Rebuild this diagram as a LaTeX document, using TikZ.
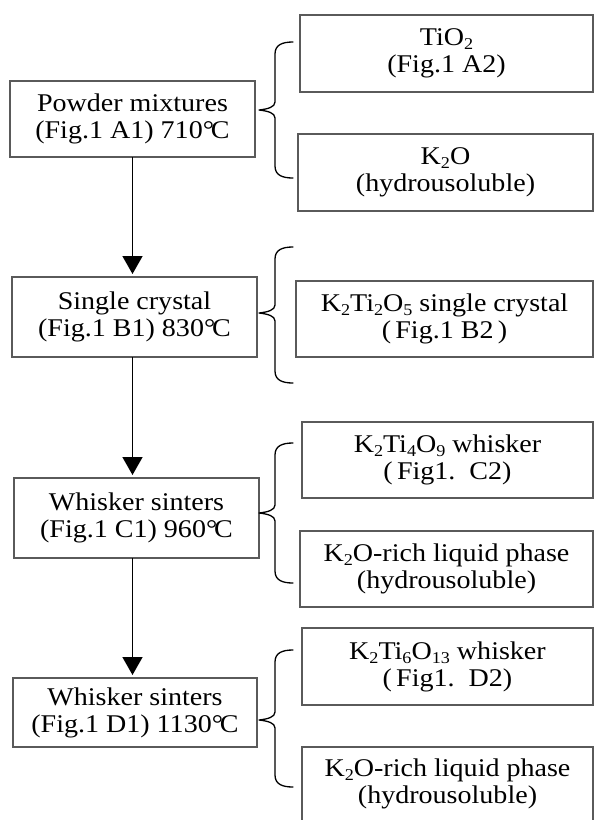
\documentclass[tikz,border=0pt]{standalone}
\usepackage{fontspec}
\setmainfont{Liberation Serif}[FakeStretch=1.1]
\usetikzlibrary{arrows.meta}
\newcommand\sbs[1]{\raisebox{-0.35ex}{\fontsize{16.5}{16.5}\selectfont #1}}
\newcommand\degc{°\kern-0.12em C}
\newcommand\curly[3]{\draw[bracestyle] (293,#1) .. controls (282,#1) and (275,#1+3) .. (275,#1+12) -- (275,#2-8) .. controls (275,#2-3) and (268,#2-1) .. (259,#2) .. controls (268,#2+1) and (275,#2+3) .. (275,#2+8) -- (275,#3-12) .. controls (275,#3-3) and (282,#3) .. (293,#3);}
\definecolor{boxgray}{HTML}{5A5A5A}
\tikzset{
  box/.style={draw=boxgray, line width=1.2pt, inner sep=0pt, outer sep=0pt, align=center,
    font=\fontsize{25.5}{27}\selectfont},
  txt/.style={inner sep=0pt, align=center, font=\fontsize{25.5}{27}\selectfont},
  flow/.style={line width=1.6pt, -{Triangle[length=18pt,width=20pt]}, shorten >=3pt},
  bracestyle/.style={line width=1.3pt, line cap=round, line join=round}
}
\begin{document}
\begin{tikzpicture}[x=1pt,y=-1pt]
\useasboundingbox (0,0) rectangle (596,820);
% left column
\node[box, minimum width=245pt, minimum height=76pt] (a1) at (132.5,119) {Powder mixtures\\(Fig.1 A1) 710\degc};
\node[box, minimum width=245pt, minimum height=80pt] (b1) at (134.5,317) {Single crystal\\(Fig.1 B1) 830\degc};
\node[box, minimum width=245pt, minimum height=80pt] (c1) at (136.5,518) {Whisker sinters\\(Fig.1 C1) 960\degc};
\node[box, minimum width=244pt, minimum height=69pt] (d1) at (135,712.5) {Whisker sinters\\(Fig.1 D1) 1130\degc};
% right column
\node[box, minimum width=293pt, minimum height=77pt] (a2) at (446.5,53.5) {TiO\sbs{2}\\(Fig.1 A2)};
\node[box, minimum width=295pt, minimum height=77pt] (a3) at (445.5,172.5) {K\sbs{2}O\\(hydrousoluble)};
\node[box, minimum width=297pt, minimum height=76pt] (b2) at (444.5,319) {K\sbs{2}Ti\sbs{2}O\sbs{5} single crystal\\(\,Fig.1 B2\,)};
\node[box, minimum width=291pt, minimum height=76pt] (c2) at (447.5,460) {K\sbs{2}Ti\sbs{4}O\sbs{9} whisker\\(\,Fig1.\ \ C2)};
\node[box, minimum width=293pt, minimum height=76pt] (c3) at (446.5,569) {K\sbs{2}O-rich liquid phase\\(hydrousoluble)};
\node[box, minimum width=291pt, minimum height=77pt] (d2) at (447.5,666.5) {K\sbs{2}Ti\sbs{6}O\sbs{13} whisker\\(\,Fig1.\ \ D2)};
\coordinate (d3tl) at (302,747);
\coordinate (d3tr) at (593,747);
\draw[draw=boxgray, line width=1.2pt] (d3tl |- 0,825) -- (d3tl) -- (d3tr) -- (d3tr |- 0,825);
\node[txt] (d3) at (447.5,784) {K\sbs{2}O-rich liquid phase\\(hydrousoluble)};
% flow arrows
\draw[flow] (a1.south) -- (a1.south |- b1.north);
\draw[flow] (a1.south |- b1.south) -- (a1.south |- c1.north);
\draw[flow] (a1.south |- c1.south) -- (a1.south |- d1.north);
% braces
\curly{42}{110}{178}
\curly{247}{313}{383}
\curly{443}{513}{583}
\curly{650}{720}{787}
\end{tikzpicture}
\end{document}
